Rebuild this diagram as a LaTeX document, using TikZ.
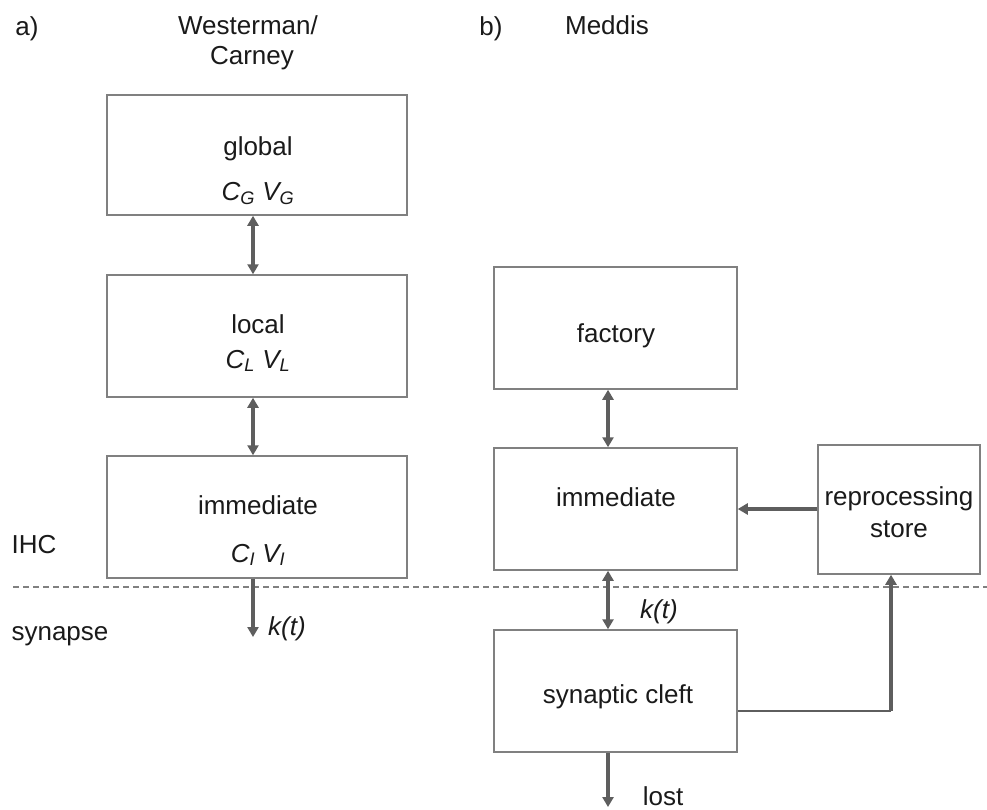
\documentclass[tikz,border=0pt]{standalone}
\usepackage{fontspec}
\setmainfont{Liberation Sans}
\usetikzlibrary{arrows.meta}
\definecolor{boxgray}{HTML}{808080}
\definecolor{arrgray}{HTML}{5E5E5E}
\definecolor{txt}{HTML}{1A1A1A}
\begin{document}
\begin{tikzpicture}[x=1pt,y=-1pt,
  every node/.style={text=txt,font=\fontsize{26}{31}\selectfont,inner sep=0pt},
  blk/.style={draw=boxgray,line width=1.5pt,rectangle},
  lbl/.style={anchor=base},
  conn/.style={draw=arrgray,line width=3.5pt,-{Triangle[width=11pt,length=10pt]}},
  dconn/.style={draw=arrgray,line width=3.5pt,{Triangle[width=11pt,length=10pt]}-{Triangle[width=11pt,length=10pt]}},
  thin/.style={draw=arrgray,line width=1.2pt}]
\useasboundingbox (0,0) rectangle (987,809);
\fill[white] (0,0) rectangle (987,809);

% headings
\node[lbl] (la) at (27,35) {a)};
\node[lbl] (lw1) at (248,34) {Westerman/};
\node[lbl] (lw2) at (252,64) {Carney};
\node[lbl] (lb) at (491,35) {b)};
\node[lbl] (lm) at (607,34) {Meddis};
\node[lbl] (ihc) at (34,553) {IHC};
\node[lbl] (syn) at (60,640) {synapse};

% left column boxes
\node[blk,minimum width=300pt,minimum height=120pt] (global) at (257,155) {};
\node[blk,minimum width=300pt,minimum height=122pt] (local) at (257,336) {};
\node[blk,minimum width=300pt,minimum height=122pt] (immL) at (257,517) {};

\node[lbl] (tglobal) at (258,155) {global};
\node[lbl] (vglobal) at (258,200) {\textit{C\textsubscript{G} V\textsubscript{G}}};
\node[lbl] (tlocal) at (258,333) {local};
\node[lbl] (vlocal) at (258,368) {\textit{C\textsubscript{L} V\textsubscript{L}}};
\node[lbl] (timmL) at (258,514) {immediate};
\node[lbl] (vimmL) at (258,562) {\textit{C\textsubscript{I} V\textsubscript{I}}};

% right column boxes
\node[blk,minimum width=243pt,minimum height=122pt] (factory) at (615.5,328) {};
\node[blk,minimum width=243pt,minimum height=122pt] (immR) at (615.5,509) {};
\node[blk,minimum width=162pt,minimum height=129pt] (repro) at (899,509.5) {};
\node[blk,minimum width=243pt,minimum height=122pt] (cleft) at (615.5,691) {};

\node[lbl] (tfactory) at (616,342) {factory};
\node[lbl] (timmR) at (616,506) {immediate};
\node[lbl] (trepro1) at (899,505) {reprocessing};
\node[lbl] (trepro2) at (899,537) {store};
\node[lbl] (tcleft) at (618,703) {synaptic cleft};

% dashed boundary
\coordinate (dl) at (13,587);
\coordinate (dr) at (987,587);
\draw[boxgray,line width=1.3pt,dash pattern=on 6pt off 4pt] (dl) -- (dr);

% axes for arrows
\coordinate (axL) at (253,0);
\coordinate (axR) at (608,0);
\coordinate (axS) at (891,0);

% left arrows
\draw[dconn] (global.south -| axL) -- (local.north -| axL);
\draw[dconn] (local.south -| axL) -- (immL.north -| axL);
\coordinate (ktL) at (253,637);
\draw[conn] (immL.south -| axL) -- (ktL);
\node[lbl] (kL) at (287,635) {\textit{k(t)}};

% right arrows
\draw[dconn] (factory.south -| axR) -- (immR.north -| axR);
\draw[dconn] (immR.south -| axR) -- (cleft.north -| axR);
\node[lbl] (kR) at (659,618) {\textit{k(t)}};
\coordinate (lostend) at (608,807);
\draw[conn] (cleft.south -| axR) -- (lostend);
\node[lbl] (lost) at (663,805) {lost};

\coordinate (rpy) at (0,509);
\draw[conn] (repro.west |- rpy) -- (immR.east |- rpy);

\coordinate (cy) at (0,711);
\coordinate (corner) at (891,711);
\draw[thin] (cleft.east |- cy) -- (corner);
\draw[conn] (corner) -- (repro.south -| axS);
\end{tikzpicture}
\end{document}
